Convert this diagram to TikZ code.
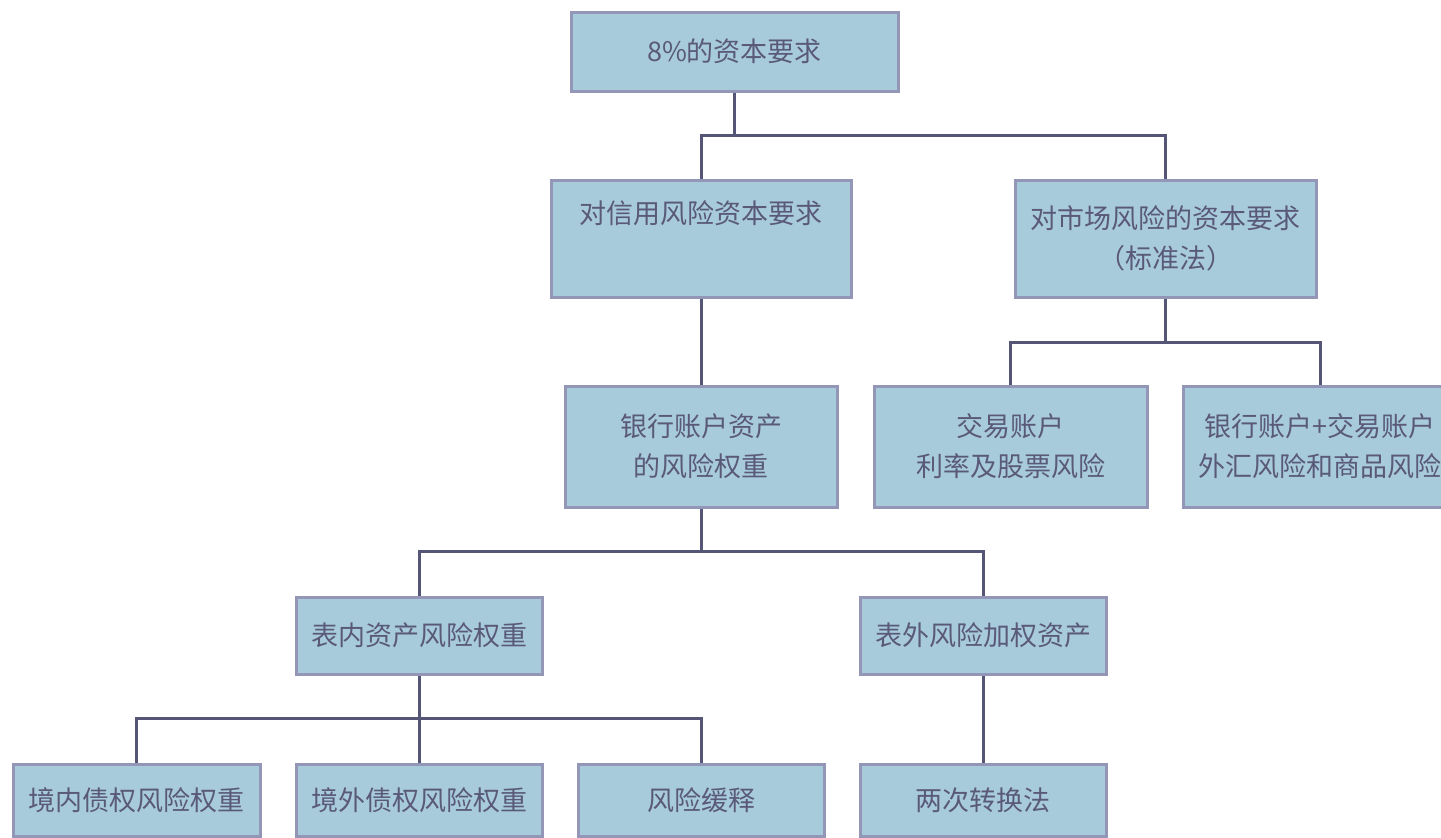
\documentclass[tikz,border=0pt]{standalone}
\usepackage{fontspec}
\setmainfont{Noto Sans CJK SC}
\definecolor{boxfill}{HTML}{A7CBDB}
\definecolor{boxline}{HTML}{9496B8}
\definecolor{txt}{HTML}{5A5A78}
\definecolor{conn}{HTML}{555577}
\begin{document}
\begin{tikzpicture}[x=0.5pt,y=-0.5pt,
  box/.style={draw=boxline, fill=boxfill, line width=1.5pt, text=txt,
    align=center, inner sep=0pt, font=\fontsize{13.5}{20}\selectfont},
  link/.style={draw=conn, line width=1.5pt}]
\useasboundingbox (0,0) rectangle (1441,837);
\clip (0,0) rectangle (1441,837);
% boxes
\node[box, minimum width=163.5pt, minimum height=39.5pt] (top) at (734.5,51.5) {8\%的资本要求};
\node[box, minimum width=150pt, minimum height=58.5pt] (credit) at (701,238.5) {对信用风险资本要求\\\strut};
\node[box, minimum width=150.5pt, minimum height=58.5pt] (market) at (1165.5,238.5) {对市场风险的资本要求\\（标准法）};
\node[box, minimum width=136pt, minimum height=60.5pt] (bank) at (701,446.5) {银行账户资产\\的风险权重};
\node[box, minimum width=136.5pt, minimum height=60.5pt] (trade) at (1010.5,446.5) {交易账户\\利率及股票风险};
\node[box, minimum width=136.5pt, minimum height=60.5pt] (both) at (1320,446.5) {银行账户+交易账户\\外汇风险和商品风险};
\node[box, minimum width=123pt, minimum height=38.5pt] (onbal) at (419,635.5) {表内资产风险权重};
\node[box, minimum width=123pt, minimum height=38.5pt] (offbal) at (983,635.5) {表外风险加权资产};
\node[box, minimum width=123.5pt, minimum height=36pt] (dom) at (136.5,800) {境内债权风险权重};
\node[box, minimum width=123pt, minimum height=36pt] (for) at (419,800) {境外债权风险权重};
\node[box, minimum width=123pt, minimum height=36pt] (mit) at (701,800) {风险缓释};
\node[box, minimum width=123pt, minimum height=36pt] (conv) at (983,800) {两次转换法};
% connectors
\draw[link] (top.south) -- (734.5,135) -| (credit.north);
\draw[link] (734.5,135) -| (market.north);
\draw[link] (credit.south) -- (bank.north);
\draw[link] (market.south) -- (1165.5,342) -| (trade.north);
\draw[link] (1165.5,342) -| (both.north);
\draw[link] (bank.south) -- (701,551) -| (onbal.north);
\draw[link] (701,551) -| (offbal.north);
\draw[link] (onbal.south) -- (419,718) -| (dom.north);
\draw[link] (419,718) -- (for.north);
\draw[link] (419,718) -| (mit.north);
\draw[link] (offbal.south) -- (conv.north);
\end{tikzpicture}
\end{document}
